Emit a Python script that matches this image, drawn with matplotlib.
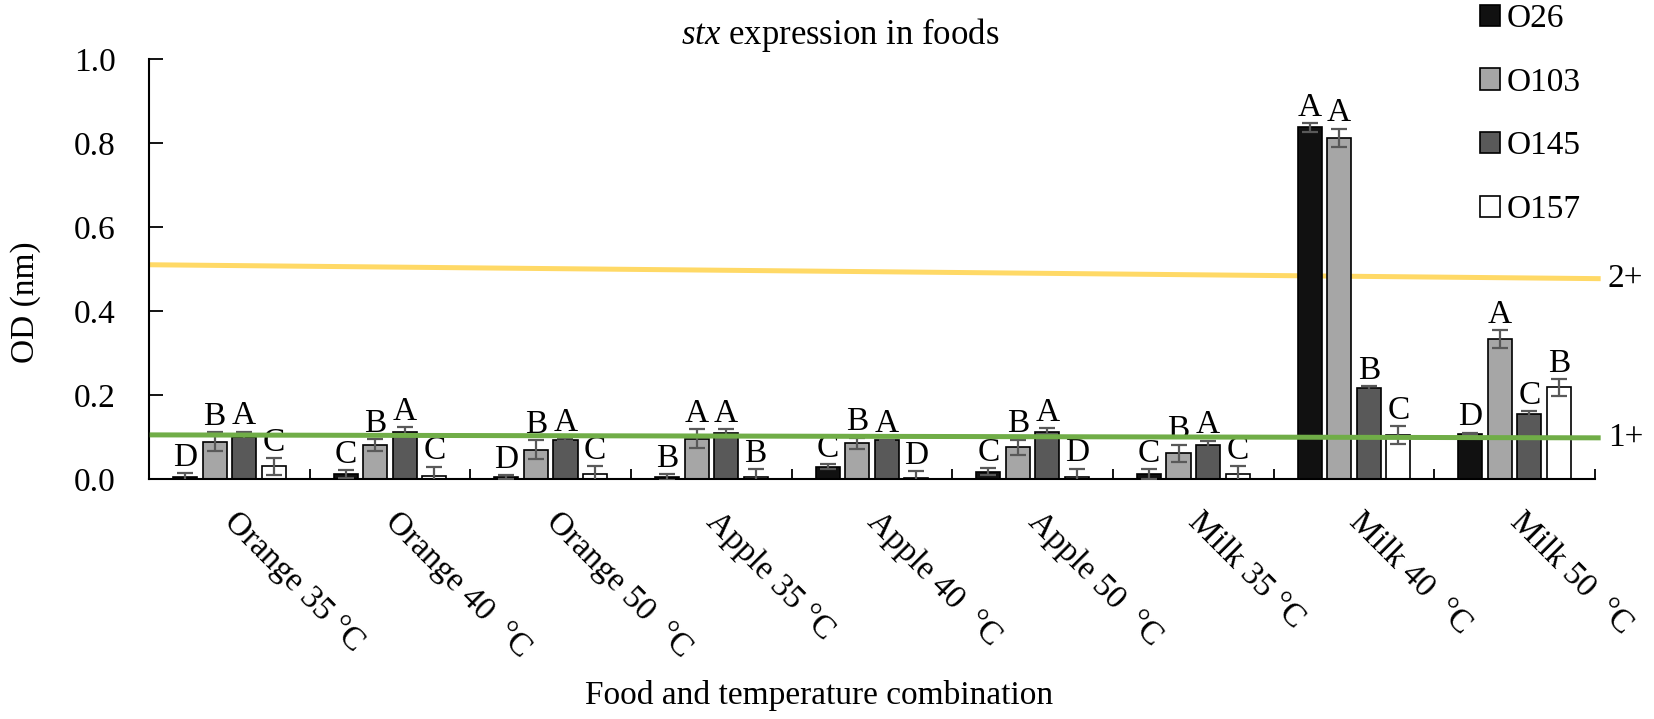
import matplotlib.pyplot as plt
import numpy as np
from matplotlib.patches import Patch

plt.rcParams['font.family'] = ['Liberation Serif', 'DejaVu Serif']
plt.rcParams['mathtext.fontset'] = 'custom'
plt.rcParams['mathtext.it'] = 'Liberation Serif:italic'
plt.rcParams['mathtext.rm'] = 'Liberation Serif'

# food / temperature groups
groups = ['Orange 35 \u00b0C', 'Orange 40  \u00b0C', 'Orange 50  \u00b0C',
          'Apple 35 \u00b0C', 'Apple 40  \u00b0C', 'Apple 50  \u00b0C',
          'Milk 35 \u00b0C', 'Milk 40  \u00b0C', 'Milk 50  \u00b0C']
strains = ['O26', 'O103', 'O145', 'O157']

# OD values per strain
o26 = [0.004, 0.012, 0.004, 0.004, 0.029, 0.017, 0.012, 0.837, 0.107]
o103 = [0.089, 0.081, 0.070, 0.096, 0.085, 0.075, 0.061, 0.812, 0.333]
o145 = [0.100, 0.113, 0.094, 0.110, 0.092, 0.111, 0.081, 0.216, 0.154]
o157 = [0.030, 0.008, 0.011, 0.004, 0.002, 0.005, 0.011, 0.105, 0.218]

# error bars
o26_err = [0.010, 0.009, 0.005, 0.007, 0.006, 0.008, 0.011, 0.010, 0.003]
o103_err = [0.022, 0.014, 0.023, 0.023, 0.013, 0.019, 0.020, 0.022, 0.021]
o145_err = [0.013, 0.010, 0.003, 0.008, 0.002, 0.010, 0.010, 0.005, 0.007]
o157_err = [0.020, 0.021, 0.020, 0.019, 0.017, 0.019, 0.020, 0.021, 0.020]

# significance letters
o26_let = ['D', 'C', 'D', 'B', 'C', 'C', 'C', 'A', 'D']
o103_let = ['B', 'B', 'B', 'A', 'B', 'B', 'B', 'A', 'A']
o145_let = ['A', 'A', 'A', 'A', 'A', 'A', 'A', 'B', 'C']
o157_let = ['C', 'C', 'C', 'B', 'D', 'D', 'C', 'C', 'B']

# threshold lines (left end, right end)
thr_2plus = [0.510, 0.477]
thr_1plus = [0.105, 0.098]

values = [o26, o103, o145, o157]
errors = [o26_err, o103_err, o145_err, o157_err]
letters = [o26_let, o103_let, o145_let, o157_let]
colors = ['#111111', '#a6a6a6', '#595959', '#ffffff']

fig = plt.figure(figsize=(16.54, 7.19), dpi=100)
ax = fig.add_axes([0.0901, 0.3338, 0.8742, 0.5842])

x = np.arange(len(groups))
pitch = 0.184
width = 0.15
for i in range(4):
    xi = x + (i - 1.5) * pitch
    ax.bar(xi, values[i], width, color=colors[i], edgecolor='black', linewidth=1.2, zorder=2)
    ax.errorbar(xi, values[i], yerr=errors[i], fmt='none', ecolor='#595959',
                elinewidth=1.6, capsize=5.5, capthick=1.6, zorder=3)
    for xx, v, e, t in zip(xi, values[i], errors[i], letters[i]):
        ax.text(xx, v + e + 0.001, t, ha='center', va='bottom', fontsize=24, zorder=4)

# threshold lines
lx = [-0.48, 8.52]
ax.plot(lx, thr_2plus, color='#ffd966', linewidth=3.6, clip_on=False, zorder=1)
ax.plot(lx, thr_1plus, color='#70ad47', linewidth=3.6, clip_on=False, zorder=5)
ax.text(8.58, thr_2plus[1], '2+', ha='left', va='center', fontsize=24)
ax.text(8.58, thr_1plus[1], '1+', ha='left', va='center', fontsize=24)

ax.set_xlim(-0.5, 8.5)
ax.set_ylim(0, 1.0)
ax.set_yticks(np.arange(0, 1.01, 0.2))
ax.set_yticklabels(['%.1f' % v for v in np.arange(0, 1.01, 0.2)], fontsize=24)
ax.tick_params(axis='y', direction='in', length=10, width=1.3, pad=24)

# x ticks at group boundaries, labels at centres
ax.set_xticks(np.arange(-0.5, 9.0, 1.0))
ax.set_xticklabels([])
ax.tick_params(axis='x', direction='in', length=7, width=1.3)
for xx, g in zip(x, groups):
    ax.text(xx + 0.066, -0.066, g, rotation=-45, ha='left', va='top',
            rotation_mode='anchor', fontsize=24, clip_on=False)

for s in ['top', 'right']:
    ax.spines[s].set_visible(False)
ax.spines['left'].set_linewidth(1.5)
ax.spines['bottom'].set_linewidth(1.5)

ax.set_ylabel('OD (nm)', fontsize=24)
ax.yaxis.set_label_coords(-0.075, 0.42)
fig.text(0.508, 0.951, r'$\it{stx}$ expression in foods', ha='center', va='center', fontsize=25)
fig.text(0.495, 0.033, 'Food and temperature combination', ha='center', va='center', fontsize=24)

handles = [Patch(facecolor=c, edgecolor='black', linewidth=1.2) for c in colors]
fig.legend(handles, strains, loc='upper left', bbox_to_anchor=(0.8925, 1.0),
           frameon=False, fontsize=24, handlelength=0.6, handleheight=0.6,
           handletextpad=0.2, labelspacing=1.0, borderaxespad=0.0, borderpad=0.1)

fig.savefig('out.png', dpi=100)
